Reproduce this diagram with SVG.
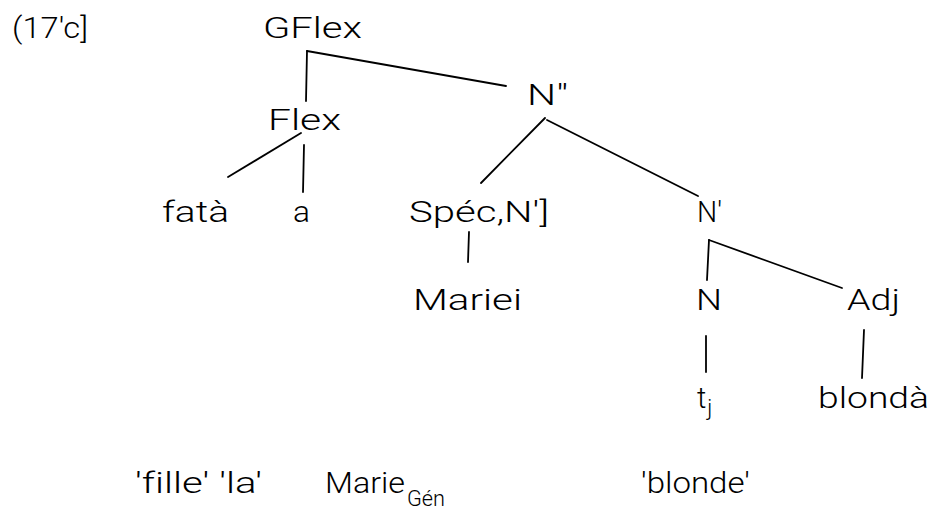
<svg xmlns="http://www.w3.org/2000/svg" width="931" height="512" viewBox="0 0 931 512">
  <style>
    text { font-family: "DejaVu Sans ExtraLight", "Roboto", "Liberation Sans", sans-serif; font-weight: 300; font-size: 29px; fill: #000; font-variant-ligatures: none; }
    .sub { font-size: 22px; }
    .edge { stroke: #000; stroke-width: 1.8; fill: none; stroke-linecap: round; }
  </style>
  <rect width="931" height="512" fill="#fff"/>

  <!-- example number -->
  <text x="12" y="38" textLength="76" lengthAdjust="spacingAndGlyphs">(17'c]</text>

  <!-- branches -->
  <g id="edges">
    <path class="edge" d="M307 51 L306 101"/>
    <path class="edge" d="M307 51 L506 86"/>
    <path class="edge" d="M301 133 L228 177"/>
    <path class="edge" d="M304 145 L303 192"/>
    <path class="edge" d="M545 118 L481 183"/>
    <path class="edge" d="M547 120 L698 196"/>
    <path class="edge" d="M469 232 L468 262"/>
    <path class="edge" d="M709 240 L707 280"/>
    <path class="edge" d="M709 240 L842 288"/>
    <path class="edge" d="M706 336 L706 372"/>
    <path class="edge" d="M864 330 L862 378"/>
  </g>

  <g id="gflex"><text x="263" y="38" textLength="99" lengthAdjust="spacingAndGlyphs">GFlex</text></g>
  <g id="flex"><text x="268" y="130" textLength="73" lengthAdjust="spacingAndGlyphs">Flex</text></g>
  <g id="n2"><text x="527" y="105" textLength="41" lengthAdjust="spacingAndGlyphs">N"</text></g>
  <g id="fata"><text x="162" y="222" textLength="67" lengthAdjust="spacingAndGlyphs">fatà</text></g>
  <g id="a"><text x="293" y="222" textLength="17" lengthAdjust="spacingAndGlyphs">a</text></g>
  <g id="spec"><text x="409" y="222" textLength="140" lengthAdjust="spacingAndGlyphs">Spéc,N']</text></g>
  <g id="n1"><text x="697" y="222" textLength="25" lengthAdjust="spacingAndGlyphs">N'</text></g>
  <g id="mariei"><text x="413" y="310" textLength="109" lengthAdjust="spacingAndGlyphs">Mariei</text></g>
  <g id="n0"><text x="696" y="310" textLength="26" lengthAdjust="spacingAndGlyphs">N</text></g>
  <g id="adj"><text x="847" y="310" textLength="53" lengthAdjust="spacingAndGlyphs">Adj</text></g>
  <g id="trace"><text x="697" y="408">t<tspan class="sub" dx="1" dy="7">j</tspan></text></g>
  <g id="blonda"><text x="818" y="408" textLength="111" lengthAdjust="spacingAndGlyphs">blondà</text></g>

  <!-- glosses -->
  <g id="glosses">
    <text x="135" y="493" textLength="127" lengthAdjust="spacingAndGlyphs">'fille' 'la'</text>
    <text x="325" y="493" textLength="80" lengthAdjust="spacingAndGlyphs">Marie</text>
    <text class="sub" x="407" y="506" textLength="38" lengthAdjust="spacingAndGlyphs">Gén</text>
    <text x="641" y="493" textLength="109" lengthAdjust="spacingAndGlyphs">'blonde'</text>
  </g>
</svg>
